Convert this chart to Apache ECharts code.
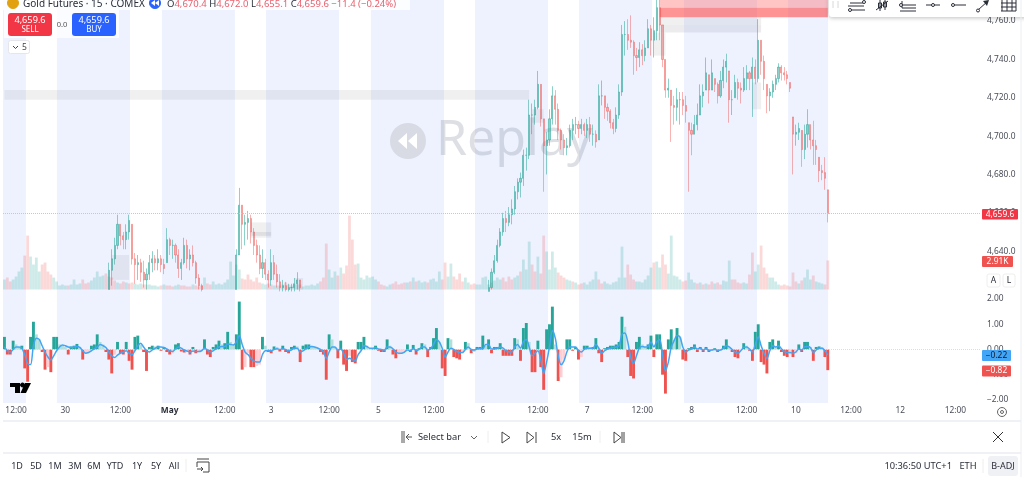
<!DOCTYPE html>
<html>
<head>
<meta charset="utf-8">
<title>Gold Futures</title>
<style>html,body{margin:0;background:#fff;overflow:hidden}#chart{width:1024px;height:477px}</style>
<script src="https://cdn.jsdelivr.net/npm/echarts@6/dist/echarts.min.js"></script>
</head>
<body>
<div id="chart"></div>
<script>
// bars are 40 min wide here, 36 per day. price is off screen where there are gaps
var gap = function (n) { return new Array(n).fill(null); };

var closes = [].concat(gap(36), [
  4630,4636,4643,4654,4648,4646,4650,4656,4636,4633,
  4634,4629,4625,4628,4634,4636,4634,4636,4633,4631,
  4646,4643,4643,4638,4631,4634,4643,4636,4638,4634,
  4626,4622,4620
], gap(11), [
  4638,4664,4654,4655,4657,4650,4643,4638,4631,4634,
  4628,4625,4634,4628,4624,4621,4622,4620,4621,4621,
  4623,4625,4621
], gap(64), [
  4621,4629,4635,4643,4650,4657,4655,4659,4662,4671,
  4676,4678,4690,4690,4711,4711,4715,4727,4709,4695,
  4698,4709,4721,4714,4703,4698,4694,4695,4703,4706,
  4706,4704,4706,4703,4706,4701,4701,4697,4721,4721,
  4715,4713,4707,4704,4711,4723,4753,4753,4750,4749,
  4742,4741,4745,4742,4746,4756,4750,4755,4767,4758,
  4740,4724,4725,4716,4715,4719,4719,4716,4713,4703,
  4701,4706,4711,4721,4723,4733,4724,4733,4727,4721,
  4729,4736,4739,4719,4719,4728,4725,4724,4730,4733,
  4730,4736,4730,4750,4739,4730,4721,4723,4727,4730,
  4736,4733,4732,4730,4725,4701,4702,4704,4693,4701,
  4706,4698,4695,4693,4682,4681,4678,4659.6
]);

var highs = [].concat(gap(36), [
  4634,4641,4647,4659,4654,4650,4654,4659,4654,4639,
  4638,4636,4635,4631,4638,4640,4638,4641,4638,4636,
  4652,4647,4646,4644,4641,4636,4647,4646,4641,4643,
  4635,4628,4623
], gap(11), [
  4641,4673,4664,4659,4661,4659,4652,4646,4643,4641,
  4636,4630,4641,4638,4633,4628,4625,4624,4623,4623,
  4626,4629,4625
], gap(64), [
  4625,4631,4638,4646,4652,4660,4661,4663,4667,4674,
  4678,4681,4693,4694,4719,4717,4719,4734,4727,4709,
  4702,4714,4726,4724,4717,4704,4701,4699,4706,4709,
  4710,4708,4709,4707,4709,4710,4706,4703,4727,4729,
  4721,4717,4714,4709,4715,4727,4758,4760,4761,4763,
  4750,4746,4749,4748,4750,4761,4758,4762,4771,4771,
  4758,4740,4730,4724,4721,4725,4723,4723,4721,4707,
  4707,4711,4717,4727,4727,4741,4732,4740,4730,4728,
  4734,4740,4743,4734,4724,4732,4730,4728,4736,4737,
  4734,4741,4740,4761,4750,4742,4727,4725,4729,4732,
  4738,4737,4736,4734,4728,4710,4706,4707,4703,4706,
  4714,4706,4708,4698,4689,4685,4689,4672
]);

var lows = [].concat(gap(36), [
  4620,4622,4633,4641,4643,4641,4641,4646,4633,4623,
  4625,4624,4621,4620,4625,4629,4630,4630,4629,4628,
  4634,4638,4636,4634,4626,4625,4633,4631,4630,4632,
  4623,4620,4619
], gap(11), [
  4620,4638,4641,4643,4646,4644,4638,4634,4628,4626,
  4625,4621,4622,4625,4621,4619,4619,4619,4619,4619,
  4619,4620,4619
], gap(64), [
  4619,4620,4628,4634,4642,4648,4650,4653,4654,4659,
  4667,4668,4674,4682,4688,4701,4706,4714,4705,4671,
  4680,4695,4706,4706,4698,4693,4690,4690,4694,4698,
  4701,4699,4701,4700,4699,4697,4695,4694,4698,4716,
  4709,4708,4704,4701,4702,4709,4721,4742,4745,4746,
  4732,4734,4736,4737,4739,4746,4742,4741,4750,4750,
  4736,4720,4720,4697,4706,4708,4706,4711,4707,4671,
  4690,4701,4703,4711,4715,4724,4717,4724,4723,4717,
  4720,4725,4728,4707,4711,4720,4719,4717,4723,4724,
  4724,4710,4727,4728,4732,4724,4712,4713,4720,4724,
  4728,4729,4729,4727,4723,4680,4695,4698,4684,4688,
  4694,4693,4685,4685,4676,4677,4672,4655
]);

var volumes = [
  1.0,1.2,.8,1.0,1.3,1.8,2.2,3.4,5.4,3.3,
  2.5,3.2,1.8,2.5,2.7,1.8,1.5,1.2,.8,.4,
  .5,.4,.4,.5,1.0,.5,.6,1.0,.6,.7,
  .9,1.2,1.8,1.3,1.4,1.6,1.3,1.2,.9,.7,
  .6,.8,.7,.6,.7,.6,.5,.6,.5,.5,
  .5,.4,.4,.3,.4,.5,.4,.4,.3,.4,
  .5,.4,.4,.3,.3,.5,.4,.3,.4,1.2,
  .6,.5,.8,.5,.6,.5,.7,1.0,2.8,1.4,
  2.5,2.0,1.1,1.0,1.5,1.0,.8,1.2,.7,.6,
  .5,.6,.5,.4,.4,.4,.5,.7,.5,.4,
  .5,.5,.5,.3,.4,.4,.5,.4,.6,.8,
  1.2,4.6,2.0,1.2,1.8,1.4,2.2,1.6,2.4,7.4,
  5.0,2.5,2.6,1.2,1.0,1.4,1.2,1.3,1.0,.8,
  .5,.4,.3,.5,.6,.8,.5,.6,.7,.7,
  .8,1.2,.8,.9,.7,.8,.7,1.0,1.1,.8,
  1.8,1.0,2.7,1.3,2.6,1.3,1.0,1.6,.8,1.2,
  .7,.5,.6,.5,.5,1.2,1.3,.5,.7,.9,
  1.2,1.0,1.2,.8,1.3,1.0,1.2,1.4,1.8,3.0,
  2.0,4.8,2.5,1.8,3.3,1.6,5.4,3.8,2.0,3.8,
  2.2,1.7,1.4,1.2,1.0,.9,.8,.7,.5,.6,
  .7,.5,.8,1.0,1.8,1.0,.6,.8,.6,.5,
  .7,.8,1.2,4.3,1.2,2.5,1.5,1.0,.8,.8,
  .7,1.0,1.4,2.2,2.7,2.8,2.2,3.5,2.5,1.6,
  5.4,1.4,1.3,1.0,.8,.9,1.7,1.0,.7,.6,
  .7,.5,.6,.5,.8,.6,.7,.5,.9,.8,
  2.9,1.0,1.0,.7,.6,.7,.6,1.5,3.7,1.8,
  2.5,4.4,2.2,1.6,1.2,1.2,.8,.5,.4,.5,
  .4,.3,1.7,.8,.6,.9,1.2,2.0,1.0,1.4,
  .8,.7,.6,.5,2.91
];

var histogram = [
  .5,-.2,-.2,.35,.2,.1,.15,-.75,-1.28,.5,
  1.1,.6,.4,-.1,-.8,-.7,-.9,.5,.5,.2,
  .15,.1,-.2,.12,.15,.22,.1,-.4,-.15,-.1,
  .15,.2,.6,.3,.2,-.1,-.4,-.95,-.2,.3,
  -.15,-.2,.3,-.45,-.8,.5,.55,.2,-.1,-.85,
  .1,.15,.12,.15,-.05,.1,-.1,-.2,-.15,.2,
  .25,-.08,-.12,-.1,-.2,.1,-.15,-.1,-.05,.4,
  -.2,-.3,.1,.2,.35,.2,.25,.7,.3,.2,
  .6,1.9,-.8,-.7,-.15,-.7,-.7,-.65,-.6,.5,
  .15,-.1,-.15,.12,.1,-.08,.15,-.1,-.15,.1,
  .15,.12,-.5,.15,.2,.2,.15,.1,.05,-.1,
  -.2,-1.2,.6,.4,.1,-.35,.35,-.6,-.85,-.25,
  -.5,-.55,.3,.3,.5,.15,.05,.05,.15,-.05,
  -.1,-.1,.4,.15,-.2,-.35,-.2,-.15,-.05,.2,
  -.1,.18,-.2,.05,.25,.2,-.3,.1,.45,.85,
  .3,-.75,-1.05,.45,.4,-.3,-.35,-.4,-.15,.3,
  .25,-.15,-.1,.1,.1,.55,.15,.4,-.15,.1,
  .1,.25,-.25,-.25,-.25,-.25,.45,.4,-.45,.85,
  1.05,.3,-.9,-.9,.35,-.7,-1.6,.8,1.0,1.7,
  .2,-1.25,-1.1,-.4,.4,.4,-.05,.1,-.4,-.3,
  .15,.15,.1,.1,.45,-.15,-.5,.05,.1,.15,
  .15,.2,.3,1.3,.9,-.3,-1.05,-1.15,.3,.5,
  .2,.1,.2,.55,-.3,.6,.6,-1.0,-1.75,.4,
  .8,.4,.85,.5,-.4,-.45,.05,.1,.2,-.1,
  .1,-.1,.1,-.1,-.05,.05,-.1,-.05,.15,.4,
  .1,-.1,-.3,-.35,-.05,.25,.15,-.05,-.45,.7,
  1.0,-.5,-.6,-.95,.3,.4,.1,.35,-.1,-.25,
  -.3,-.2,-.3,-.15,.2,-.1,.3,.3,.1,-.45,
  .1,.12,.1,-.3,-.82
];

var signal = [
  .1,-.05,-.1,0,.1,.1,.05,-.2,-.55,-.6,
  .15,.45,.4,.15,-.1,-.3,-.42,-.25,-.05,.1,
  .18,.15,.1,.08,.1,.12,.08,-.05,-.15,-.12,
  -.05,.02,.1,.2,.15,.08,-.1,-.25,-.32,-.22,
  -.15,-.1,-.05,-.15,-.2,-.05,.15,.25,.1,-.05,
  -.1,-.02,.05,.1,.1,.08,.02,-.05,-.08,.02,
  .1,.05,-.02,-.06,-.1,-.06,-.08,-.08,-.05,.05,
  -.02,-.1,-.05,.02,.1,.12,.12,.22,.2,.18,
  .3,.55,.2,-.1,-.2,-.35,-.45,-.5,-.5,-.2,
  -.05,-.05,-.05,0,.03,0,.03,0,-.05,-.02,
  .05,.05,-.1,-.05,.03,.1,.12,.1,.06,0,
  -.08,-.35,-.1,.1,.1,-.02,.02,-.15,-.4,-.35,
  -.4,-.45,-.2,-.05,.15,.12,.05,.05,.08,.02,
  0,-.03,.1,.1,.03,-.1,-.15,-.15,-.1,-.02,
  -.05,.03,-.03,0,.1,.1,-.02,.03,.2,.4,
  .3,.05,-.3,-.1,.05,0,-.08,-.12,-.12,0,
  .1,0,-.02,.02,.03,.02,.2,.2,.02,.02,
  .05,.1,.05,-.05,-.1,-.1,.1,.2,.05,.3,
  .4,.1,-.25,-.15,-.05,-.4,-.95,-.5,.1,.75,
  .45,-.25,-.6,-.45,-.1,.1,.1,.1,-.05,-.1,
  0,.05,.05,.05,.2,.05,-.15,-.05,.02,.05,
  .08,.1,.15,.6,.65,.3,-.3,-.55,-.25,.05,
  .12,.1,.12,.3,.1,.3,.4,-.2,-.85,-.5,
  .1,.35,.55,.5,.1,-.1,-.02,.02,.1,.02,
  .05,-.02,.03,-.03,-.02,0,-.03,-.02,.05,.15,
  .1,0,-.1,-.15,-.05,.08,.1,.02,-.1,.2,
  .5,.15,-.15,-.35,-.05,.15,.1,.15,.03,-.08,
  -.12,-.12,-.15,-.1,.02,-.02,.1,.12,.08,-.12,
  -.02,.05,.05,-.05,-.22
];

// time axis: bar index and label
var tickBars = [4,21,40,57,76,92,112,129,148,165,184,201,220,237,256,273,292,309,328];
var tickNames = ['12:00','30','12:00','May','12:00','3','12:00','5','12:00','6','12:00','7','12:00','8','12:00','10','12:00','12','12:00'];

// session shading, start and end in bars
var sessions = [[-0.5,7.4],[18.1,43.3],[54.3,79.5],[90.2,115.4],[126.4,151.6],[162.3,187.5],[198.2,223.4],[234.4,259.6],[270.3,284.1]];

// zones: first bar, last bar, top price, bottom price
var greyZones = [[0,181,4724,4719],[226,261,4762,4758],[85,92,4655,4647],[37,43,4638,4625],[224,228,4754,4742],[258,261,4728,4714],[182,186,4714,4707],[100,103,4626,4620]];
var darkZones = [[226,261,4758,4754],[85,92,4650,4648]];
var lightRedZones = [[226,284,4771,4767]];
var redZones = [[226,284,4767,4762]];

var priceTicks = [4640,4660,4680,4700,4720,4740,4760];
var oscTicks = [-2,-1,0,1,2];
var lastPrice = 4659.6;
var barCount = 337;

var fontName = '"Noto Sans", sans-serif';

var categories = [];
for (var i = 0; i < barCount; i++) {
  var at = tickBars.indexOf(i);
  categories.push(at >= 0 ? tickNames[at] : '');
}

var candles = closes.map(function (c, i) {
  if (c === null) return ['-','-','-','-'];
  var prev = i > 0 && closes[i - 1] !== null ? closes[i - 1] : lows[i];
  var open = Math.min(highs[i], Math.max(lows[i], prev));
  return [open, c, lows[i], highs[i]];
});

function zoneItems(list, color) {
  return list.map(function (z) {
    return [{ coord: [z[0], z[2]], itemStyle: { color: color } }, { coord: [z[1], z[3]] }];
  });
}

function histColor(p) {
  var v = histogram[p.dataIndex], before = p.dataIndex ? histogram[p.dataIndex - 1] : 0;
  if (v >= 0) return v >= before ? '#26a69a' : '#b2dfdb';
  return v <= before ? '#ef5350' : '#ffcdd2';
}

function priceLabel(v) {
  return v.toLocaleString('en-US', { minimumFractionDigits: 1, maximumFractionDigits: 1 });
}

// the chrome around the chart
function txt(x, y, s, size, color, extra) {
  var style = { x: x, y: y, text: s, fontSize: size, fill: color, fontFamily: fontName, verticalAlign: 'middle', align: 'left' };
  for (var k in extra) style[k] = extra[k];
  return { type: 'text', z: 12, silent: true, style: style };
}
function box(x, y, w, h, fill, r, stroke) {
  return { type: 'rect', z: 11, silent: true, shape: { x: x, y: y, width: w, height: h, r: r || 0 }, style: { fill: fill, stroke: stroke || null, lineWidth: 1 } };
}
function line(pts, color, w) {
  return { type: 'polyline', z: 12, silent: true, shape: { points: pts }, style: { stroke: color, fill: null, lineWidth: w || 1 } };
}
function dot(x, y, r, stroke, fill) {
  return { type: 'circle', z: 12, silent: true, shape: { cx: x, cy: y, r: r }, style: { stroke: stroke, fill: fill || '#fff', lineWidth: 1 } };
}
function poly(pts, fill) {
  return { type: 'polygon', z: 12, silent: true, shape: { points: pts }, style: { fill: fill } };
}

var ink = '#2a2e39';
var legendRed = '#e8606d';
var chrome = [
  // replay watermark sits under the candles
  { type: 'circle', z: 1, silent: true, shape: { cx: 408, cy: 141, r: 18 }, style: { fill: '#d8dbe4' } },
  { type: 'polygon', z: 1, silent: true, shape: { points: [[407,133],[407,149],[398,141]] }, style: { fill: '#fff' } },
  { type: 'polygon', z: 1, silent: true, shape: { points: [[417,133],[417,149],[408,141]] }, style: { fill: '#fff' } },
  { type: 'text', z: 1, silent: true, style: { x: 436, y: 141, text: 'Replay', fontSize: 50, fill: 'rgba(130,135,155,.27)', fontFamily: fontName, verticalAlign: 'middle' } },

  // legend
  box(0, 0, 410, 10, 'rgba(255,255,255,.8)'),
  box(4, 10, 115, 28, 'rgba(255,255,255,.75)'),
  dot(13, 3, 5.5, '#e2a20f', '#e2a20f'),
  txt(23, 4, 'Gold Futures · 15 · COMEX', 10, ink),
  dot(155, 3, 5.5, '#2962ff', '#2962ff'),
  poly([[155,0],[155,6],[151,3]], '#fff'),
  poly([[159,0],[159,6],[155,3]], '#fff'),
  {
    type: 'text', z: 12, silent: true,
    style: {
      x: 167, y: 4, verticalAlign: 'middle', fontFamily: fontName, fontSize: 9.5,
      text: '{k|O}{v|4,670.4} {k|H}{v|4,672.0} {k|L}{v|4,655.1} {k|C}{v|4,659.6} {v|−11.4 (−0.24%)}',
      rich: { k: { fill: ink, fontSize: 9.5, fontFamily: fontName }, v: { fill: legendRed, fontSize: 9.5, fontFamily: fontName } }
    }
  },
  box(8, 13, 44, 23, '#f23645', 3),
  txt(30, 20, '4,659.6', 9.2, '#fff', { align: 'center' }),
  txt(30, 29.5, 'SELL', 8, '#fff', { align: 'center' }),
  txt(62, 24.5, '0.0', 7.5, '#555', { align: 'center' }),
  box(72, 13, 44, 23, '#2962ff', 3),
  txt(94, 20, '4,659.6', 9.2, '#fff', { align: 'center' }),
  txt(94, 29.5, 'BUY', 8, '#fff', { align: 'center' }),
  box(8.5, 40.5, 21, 13, '#fff', 2, '#e6e6ea'),
  line([[13,46],[15.5,48.5],[18,46]], '#444'),
  txt(22, 47.5, '5', 8.5, '#444'),

  // drawing toolbar, top right
  { type: 'rect', z: 11, silent: true, shape: { x: 829, y: -6, width: 200, height: 23, r: 3 }, style: { fill: '#fff', shadowBlur: 4, shadowColor: 'rgba(0,0,0,.25)', shadowOffsetY: 1 } },
  line([[833,1],[833,8]], '#d8d8d8', 1), line([[838,1],[838,8]], '#d8d8d8', 1),
  line([[850,3],[863,3]], ink), line([[848,6],[864,6]], ink), line([[851,10],[865,10]], ink),
  dot(864, 2, 1.5, ink), dot(850, 10, 1.5, ink),
  line([[876,10],[888,1]], ink), line([[880,0],[880,11]], ink), line([[885,0],[885,10]], ink),
  box(878.5, 3, 3, 5, '#fff', 0, ink), box(883.5, 2, 3, 5, '#fff', 0, ink),
  line([[902,1],[902,5],[916,5]], ink), line([[902,5],[902,8],[916,8]], ink), line([[900,11],[916,11]], ink),
  dot(901, 5, 1.5, ink),
  line([[926,5],[940,5]], ink), dot(933, 5, 1.5, ink),
  line([[953,5],[966,5]], ink), dot(953, 5, 1.5, ink),
  line([[978,10],[988,1]], ink), dot(978, 10.5, 1.5, ink), poly([[989,0],[983,1],[987,6]], ink),
  line([[1002,0],[1002,11]], ink), line([[1007,0],[1007,11]], ink), line([[1012,0],[1012,11]], ink), line([[1016,0],[1016,11]], ink),
  line([[1001,3],[1016,3]], ink), line([[1001,7],[1016,7]], ink), line([[1001,11],[1016,11]], ink),

  // price tags
  box(982, 209, 36, 10.5, '#f23645', 1),
  txt(1000, 214.5, '4,659.6', 8.4, '#fff', { align: 'center' }),
  box(982, 256, 31, 11, '#ef5350', 1),
  txt(997.5, 261.5, '2.91K', 8.4, '#fff', { align: 'center' }),
  box(987, 274, 13, 13, '#fff', 2, '#eeeeee'),
  txt(993.5, 280.5, 'A', 8.5, ink, { align: 'center' }),
  box(1003, 274, 12, 13, '#fff', 2, '#eeeeee'),
  txt(1009, 280.5, 'L', 8.5, ink, { align: 'center' }),
  box(982, 350, 29, 11, '#42a5f5', 1),
  txt(996.5, 355.5, '−0.22', 8.4, '#131722', { align: 'center' }),
  box(982, 365.5, 29, 11, '#ef5350', 1),
  txt(996.5, 371, '−0.82', 8.4, '#fff', { align: 'center' }),

  // tradingview mark
  poly([[10,383],[20,383],[20,393],[15,393],[15,387],[10,387]], '#000'),
  dot(22.5, 385, 2, '#000', '#000'),
  poly([[25,383],[31,383],[26,393],[20.5,393]], '#000'),

  // settings
  dot(1002, 412, 4.5, '#666'), dot(1002, 412, 1.5, '#666'),

  // replay bar
  line([[3,421],[1021,421]], '#e0e3eb'),
  line([[3,453],[1021,453]], '#e0e3eb'),
  line([[1021,0],[1021,477]], '#eceef2'),
  line([[402,431],[402,443]], '#555'), line([[404,431],[404,443]], '#555'),
  line([[412,437],[406,437]], '#555'), line([[409,434],[406,437],[409,440]], '#555'),
  txt(418, 437, 'Select bar', 9.3, ink),
  line([[471,436],[474,439],[477,436]], '#666'),
  line([[488,431],[488,443]], '#eee'),
  { type: 'polygon', z: 12, silent: true, shape: { points: [[502,432],[502,443],[510,437.5]] }, style: { fill: '#fff', stroke: '#444', lineWidth: 1 } },
  { type: 'polygon', z: 12, silent: true, shape: { points: [[527,432],[527,443],[534,437.5]] }, style: { fill: '#fff', stroke: '#444', lineWidth: 1 } },
  line([[536,432],[536,443]], '#444'),
  txt(556, 437, '5x', 9.3, ink, { align: 'center' }),
  txt(582, 437, '15m', 9.3, ink, { align: 'center' }),
  line([[600,431],[600,443]], '#eee'),
  { type: 'polygon', z: 12, silent: true, shape: { points: [[614,432],[614,443],[621,437.5]] }, style: { fill: '#fff', stroke: '#444', lineWidth: 1 } },
  line([[622,432],[622,443]], '#444'), line([[624,432],[624,443]], '#444'),
  line([[993,432],[1003,442]], '#333'), line([[1003,432],[993,442]], '#333'),

  // range bar
  txt(17, 466, '1D', 9, ink, { align: 'center' }),
  txt(36, 466, '5D', 9, ink, { align: 'center' }),
  txt(55, 466, '1M', 9, ink, { align: 'center' }),
  txt(75, 466, '3M', 9, ink, { align: 'center' }),
  txt(94, 466, '6M', 9, ink, { align: 'center' }),
  txt(115, 466, 'YTD', 9, ink, { align: 'center' }),
  txt(137, 466, '1Y', 9, ink, { align: 'center' }),
  txt(156, 466, '5Y', 9, ink, { align: 'center' }),
  txt(174, 466, 'All', 9, ink, { align: 'center' }),
  line([[186,459],[186,472]], '#eee'),
  line([[197,462],[209,462],[209,472],[203,472]], '#444'),
  line([[197,462],[197,467]], '#444'), line([[197,459],[209,459]], '#444'),
  line([[197,469],[203,469]], '#444'), line([[201,467],[203,469],[201,471]], '#444'),
  txt(952, 466, '10:36:50 UTC+1', 9.3, ink, { align: 'right' }),
  txt(968, 466, 'ETH', 9.3, ink, { align: 'center' }),
  line([[983,459],[983,473]], '#eee'),
  box(988, 456, 30, 20, '#f0f1f4', 3),
  txt(1003, 466, 'B-ADJ', 9, ink, { align: 'center' })
];

var option = {
  animation: false,
  backgroundColor: '#fff',
  textStyle: { fontFamily: fontName },
  graphic: { elements: chrome },
  grid: [
    { left: 3, width: 977, top: 0, height: 289.5 },
    { left: 3, width: 977, top: 291, height: 112 },
    { left: 3, width: 977, top: 0, height: 403 }
  ],
  xAxis: [
    { type: 'category', gridIndex: 0, data: categories, axisLine: { show: false }, axisTick: { show: false }, axisLabel: { show: false } },
    {
      type: 'category', gridIndex: 1, data: categories,
      axisLine: { show: false }, axisTick: { show: false },
      axisLabel: {
        margin: 4, fontSize: 8.4, color: '#4a4e59',
        interval: function (i, v) { return v !== ''; },
        hideOverlap: false,
        formatter: function (v) { return v === 'May' ? '{b|May}' : v; },
        rich: { b: { fontWeight: 'bold', fontSize: 8.4, color: '#2a2e39' } }
      }
    },
    { type: 'value', gridIndex: 2, show: false, min: -0.5, max: barCount - 0.5 }
  ],
  yAxis: [
    {
      type: 'value', gridIndex: 0, position: 'right', min: 4620, max: 4771, scale: true,
      axisLine: { show: false }, axisTick: { show: false }, splitLine: { show: false },
      axisLabel: { customValues: priceTicks, margin: 7, fontSize: 8.4, color: '#4a4e59', formatter: priceLabel }
    },
    { type: 'value', gridIndex: 0, show: false, min: 0, max: 29, splitLine: { show: false } },
    {
      type: 'value', gridIndex: 1, position: 'right', min: -2.123, max: 2.32,
      axisLine: { show: false }, axisTick: { show: false }, splitLine: { show: false },
      axisLabel: {
        customValues: oscTicks, margin: 7, fontSize: 8.4, color: '#4a4e59',
        formatter: function (v) { return (v < 0 ? '−' : '') + Math.abs(v).toFixed(2); }
      }
    },
    { type: 'value', gridIndex: 2, show: false, min: 0, max: 1, splitLine: { show: false } }
  ],
  series: [
    {
      name: 'Sessions', type: 'line', xAxisIndex: 2, yAxisIndex: 3, z: 0, silent: true,
      data: [[0, 0]], showSymbol: false, lineStyle: { opacity: 0 },
      markArea: {
        silent: true, z: 0, itemStyle: { color: '#eef2ff' },
        data: sessions.map(function (s) { return [{ xAxis: s[0] }, { xAxis: s[1] }]; })
      }
    },
    {
      name: 'Volume', type: 'bar', xAxisIndex: 0, yAxisIndex: 1, z: 2, barWidth: 2.8, silent: true,
      data: volumes,
      itemStyle: {
        color: function (p) { return histogram[p.dataIndex] >= 0 ? 'rgba(38,166,154,.22)' : 'rgba(239,83,80,.22)'; }
      }
    },
    {
      name: 'Gold', type: 'candlestick', xAxisIndex: 0, yAxisIndex: 0, z: 3, barWidth: 1.6, silent: true,
      data: candles,
      itemStyle: {
        color: 'rgba(38,166,154,.52)', borderColor: 'rgba(38,166,154,.52)',
        color0: 'rgba(239,83,80,.44)', borderColor0: 'rgba(239,83,80,.44)', borderWidth: 1
      },
      markLine: {
        silent: true, symbol: 'none', label: { show: false }, animation: false,
        lineStyle: { type: 'dotted', color: '#f3b5bd', width: 1 },
        data: [{ yAxis: lastPrice }]
      }
    },
    {
      name: 'Zones', type: 'line', xAxisIndex: 0, yAxisIndex: 0, z: 4, silent: true,
      data: [], showSymbol: false,
      markArea: {
        silent: true, z: 4,
        data: [].concat(
          zoneItems(greyZones, 'rgba(110,110,120,.1)'),
          zoneItems(darkZones, 'rgba(110,110,120,.13)'),
          zoneItems(lightRedZones, 'rgba(255,90,90,.35)'),
          zoneItems(redZones, 'rgba(255,60,60,.55)')
        )
      }
    },
    {
      name: 'Histogram', type: 'bar', xAxisIndex: 1, yAxisIndex: 2, z: 3, barWidth: '100%', silent: true,
      data: histogram,
      itemStyle: { color: histColor },
      markLine: {
        silent: true, symbol: 'none', label: { show: false },
        lineStyle: { type: 'dotted', color: '#dcdde2', width: 1 },
        data: [{ yAxis: 0 }]
      }
    },
    {
      name: 'Signal', type: 'line', xAxisIndex: 1, yAxisIndex: 2, z: 5, silent: true,
      data: signal, showSymbol: false, smooth: 0.3,
      lineStyle: { color: '#42a5f5', width: 1.5 }
    }
  ]
};

var chart = echarts.init(document.getElementById('chart'));
chart.setOption(option);
</script>
</body>
</html>
